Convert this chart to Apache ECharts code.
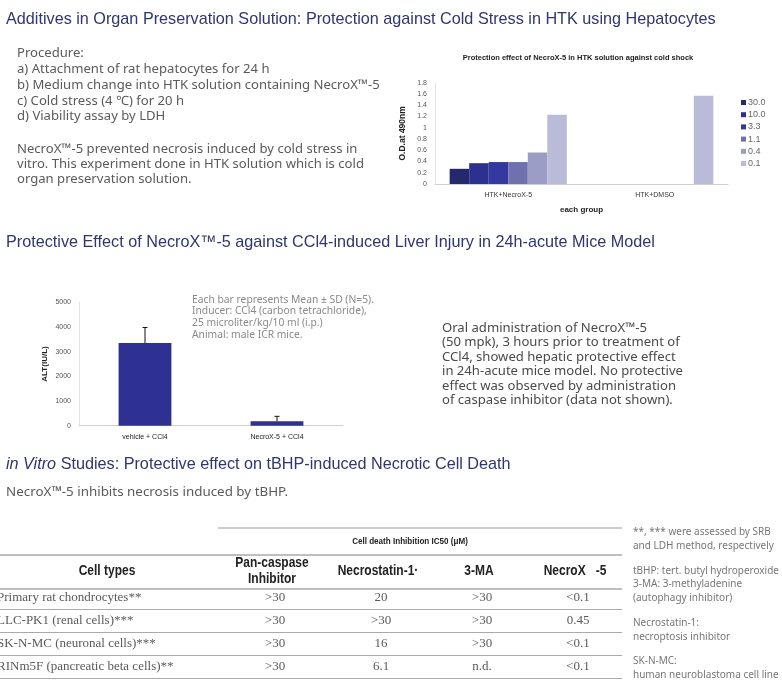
<!DOCTYPE html>
<html>
<head>
<meta charset="utf-8">
<script src="https://cdn.jsdelivr.net/npm/echarts@6/dist/echarts.min.js"></script>
<style>
html,body{margin:0;padding:0;background:#fff;}
#c{width:782px;height:693px;}
</style>
</head>
<body>
<div id="c"></div>
<script>
// ---- Chart 1: HTK cold shock ----
const htkGroups = ['HTK+NecroX-5', 'HTK+DMSO'];
const doseNames = ['30.0', '10.0', '3.3', '1.1', '0.4', '0.1'];
const od30 = [0.27, null];
const od10 = [0.37, null];
const od33 = [0.39, null];
const od11 = [0.39, null];
const od04 = [0.56, null];
const od01 = [1.23, 1.57];
const odTicks = [0, 0.2, 0.4, 0.6, 0.8, 1, 1.2, 1.4, 1.6, 1.8];

// ---- Chart 2: ALT ----
const altGroups = ['vehicle + CCl4', 'NecroX-5 + CCl4'];
const altMean = [3350, 180];
const altSD = [630, 200];
const altTicks = [0, 1000, 2000, 3000, 4000, 5000];

// ---- Table ----
const tableCols = ['Pan-caspase\nInhibitor', 'Necrostatin-1·', '3-MA', 'NecroX   -5'];
const cellTypes = ['Primary rat chondrocytes**', 'LLC-PK1 (renal cells)***', 'SK-N-MC (neuronal cells)***', 'RINm5F (pancreatic beta cells)**'];
const panCaspase = ['>30', '>30', '>30', '>30'];
const necrostatin = ['20', '>30', '16', '6.1'];
const ma3 = ['>30', '>30', '>30', 'n.d.'];
const necroX = ['<0.1', '0.45', '<0.1', '<0.1'];

const doseColors = ['#24296f', '#2c318f', '#34399f', '#6e71ae', '#9c9dc7', '#babbd9'];
const doseSeries = [od30, od10, od33, od11, od04, od01];

const chart = echarts.init(document.getElementById('c'));

const TITLE = '#2f3670';
const BODY = '#5a5a5a';
const sansTitle = 'Liberation Sans, Arial, sans-serif';
const body = '"Noto Sans", sans-serif';
const serif = '"Liberation Serif", serif';

const graphics = [];
function txt(x, y, text, font, fill, opts) {
  opts = opts || {};
  graphics.push({
    type: 'text', x: x, y: y, scaleX: opts.sx || 1, silent: true,
    style: Object.assign({
      text: text, font: font, fill: fill,
      textAlign: opts.align || 'left', textVerticalAlign: opts.va || 'middle',
      lineHeight: opts.lh
    }, opts.rich ? {rich: opts.rich} : {})
  });
}
function hline(x1, x2, y, color, w) {
  graphics.push({type: 'line', silent: true, shape: {x1: x1, y1: y, x2: x2, y2: y}, style: {stroke: color, lineWidth: w || 1}});
}

// Section titles
txt(6, 19, 'Additives in Organ Preservation Solution: Protection against Cold Stress in HTK using Hepatocytes', '17px ' + sansTitle, TITLE, {sx: 0.953});
txt(6, 242, 'Protective Effect of NecroX™-5 against CCl4-induced Liver Injury in 24h-acute Mice Model', '17px ' + sansTitle, TITLE, {sx: 0.953});
txt(6, 464, '{i|in Vitro} Studies: Protective effect on tBHP-induced Necrotic Cell Death', '17px ' + sansTitle, TITLE, {sx: 0.953, rich: {i: {font: 'italic 17px ' + sansTitle, fill: TITLE}}});

// Procedure text
txt(17, 45.5, 'Procedure:\na) Attachment of rat hepatocytes for 24 h\nb) Medium change into HTK solution containing NecroX™-5\nc) Cold stress (4 ℃) for 20 h\nd) Viability assay by LDH', '13.1px ' + body, BODY, {va: 'top', lh: 15.8});
txt(17, 141.5, 'NecroX™-5 prevented necrosis induced by cold stress in\nvitro. This experiment done in HTK solution which is cold\norgan preservation solution.', '13.1px ' + body, BODY, {va: 'top', lh: 15.2});

// chart 1 title
txt(578, 58, 'Protection effect of NecroX-5 in HTK solution against cold shock', 'bold 7.5px ' + sansTitle, '#222', {align: 'center'});

// ALT annotation
txt(192, 294, 'Each bar represents Mean ± SD (N=5).\nInducer: CCl4 (carbon tetrachloride),\n25 microliter/kg/10 ml (i.p.)\nAnimal: male ICR mice.', '10.3px ' + body, '#8a8a8a', {va: 'top', lh: 11.7});

// right paragraph
txt(442, 321, 'Oral administration of NecroX™-5\n(50 mpk), 3 hours prior to treatment of\nCCl4, showed hepatic protective effect\nin 24h-acute mice model. No protective\neffect was observed by administration\nof caspase inhibitor (data not shown).', '13.1px ' + body, '#4a4a4a', {va: 'top', lh: 14.5});

// section 3 subtitle
txt(6, 492, 'NecroX™-5 inhibits necrosis induced by tBHP.', '13.4px ' + body, BODY);

// Table
hline(218, 622, 528, '#999', 1);
txt(410, 541, 'Cell death Inhibition IC50 (μM)', 'bold 9.5px ' + sansTitle, '#222', {align: 'center', sx: 0.85});
hline(0, 622, 555, '#aaa', 1.5);
txt(107, 571, 'Cell types', 'bold 15px ' + sansTitle, '#222', {align: 'center', sx: 0.8});
const colX = [272, 378, 479, 575];
tableCols.forEach(function (c, i) {
  txt(colX[i], 571, c, 'bold 15px ' + sansTitle, '#222', {align: 'center', sx: 0.8, lh: 15.5});
});
hline(0, 622, 589, '#aaa', 1.5);
const rowY = [598, 621, 644, 667];
const valCols = [panCaspase, necrostatin, ma3, necroX];
cellTypes.forEach(function (name, r) {
  txt(-3, rowY[r], name, '13px ' + serif, BODY);
  valCols.forEach(function (col, c) {
    txt(colX[c] + 3, rowY[r], col[r], '13px ' + serif, BODY, {align: 'center'});
  });
  hline(0, 622, rowY[r] + 11.5, '#aaa', 1.2);
});

// notes
const NOTE = '10px ' + body;
txt(633, 525, '**, *** were assessed by SRB\nand LDH method, respectively', NOTE, '#777', {va: 'top', lh: 13.8});
txt(633, 564, 'tBHP: tert. butyl hydroperoxide\n3-MA: 3-methyladenine\n(autophagy inhibitor)', NOTE, '#777', {va: 'top', lh: 13.5});
txt(633, 616, 'Necrostatin-1:\nnecroptosis inhibitor', NOTE, '#777', {va: 'top', lh: 13.8});
txt(633, 654, 'SK-N-MC:\nhuman neuroblastoma cell line', NOTE, '#777', {va: 'top', lh: 13.8});

const axisLbl = {fontSize: 7, color: '#555', fontFamily: sansTitle, formatter: function (v) { return String(v); }};

const series = doseNames.map(function (n, i) {
  return {
    name: n, type: 'bar', xAxisIndex: 0, yAxisIndex: 0,
    data: doseSeries[i], barGap: '0%', barCategoryGap: '20%',
    itemStyle: {color: doseColors[i]}
  };
});
series.push({
  name: 'ALT', type: 'bar', xAxisIndex: 1, yAxisIndex: 1,
  data: altMean, barWidth: '40%', itemStyle: {color: '#2e3192'}
});
series.push({
  name: 'SD', type: 'custom', xAxisIndex: 1, yAxisIndex: 1,
  data: altMean.map(function (m, i) { return [i, m, m + altSD[i]]; }),
  renderItem: function (params, api) {
    const p0 = api.coord([api.value(0), api.value(1)]);
    const p1 = api.coord([api.value(0), api.value(2)]);
    return {
      type: 'group', children: [
        {type: 'line', shape: {x1: p0[0], y1: p0[1], x2: p1[0], y2: p1[1]}, style: {stroke: '#111', lineWidth: 1}},
        {type: 'line', shape: {x1: p1[0] - 2.5, y1: p1[1], x2: p1[0] + 2.5, y2: p1[1]}, style: {stroke: '#111', lineWidth: 1}}
      ]
    };
  },
  z: 5
});

chart.setOption({
  animation: false,
  backgroundColor: '#fff',
  legend: {
    data: doseNames, orient: 'vertical', left: 741, top: 98,
    itemWidth: 5, itemHeight: 5, icon: 'rect', itemGap: 3.2, padding: 0,
    textStyle: {fontSize: 9, color: '#666', fontFamily: sansTitle, padding: [0, 0, 0, -3]},
    selectedMode: false
  },
  grid: [
    {left: 435, right: 54, top: 82.7, bottom: 509},
    {left: 79, right: 439, top: 302.3, bottom: 267.3}
  ],
  xAxis: [
    {type: 'category', gridIndex: 0, data: htkGroups,
      axisLine: {lineStyle: {color: '#cfcfcf'}}, axisTick: {show: false},
      axisLabel: {fontSize: 7, color: '#333', fontFamily: sansTitle, margin: 8},
      name: 'each group', nameLocation: 'middle', nameGap: 22,
      nameTextStyle: {fontSize: 8, fontWeight: 'bold', color: '#222', fontFamily: sansTitle}},
    {type: 'category', gridIndex: 1, data: altGroups,
      axisLine: {lineStyle: {color: '#cfcfcf'}}, axisTick: {show: false},
      axisLabel: {fontSize: 7, color: '#222', fontFamily: sansTitle, margin: 8}}
  ],
  yAxis: [
    {type: 'value', gridIndex: 0, min: odTicks[0], max: odTicks[odTicks.length - 1], interval: 0.2,
      axisLine: {show: true, lineStyle: {color: '#e2e2e2'}}, axisTick: {show: false}, splitLine: {show: false},
      axisLabel: Object.assign({margin: 8}, axisLbl),
      name: 'O.D.at 490nm', nameLocation: 'middle', nameRotate: 90, nameGap: 28,
      nameTextStyle: {fontSize: 8.5, fontWeight: 'bold', color: '#222', fontFamily: sansTitle}},
    {type: 'value', gridIndex: 1, min: altTicks[0], max: altTicks[altTicks.length - 1], interval: 1000,
      axisLine: {show: true, lineStyle: {color: '#e2e2e2'}}, axisTick: {show: false}, splitLine: {show: false},
      axisLabel: Object.assign({margin: 8}, axisLbl),
      name: 'ALT(IU/L)', nameLocation: 'middle', nameRotate: 90, nameGap: 30,
      nameTextStyle: {fontSize: 8, fontWeight: 'bold', color: '#222', fontFamily: sansTitle}}
  ],
  series: series,
  graphic: {elements: graphics}
});
</script>
</body>
</html>
